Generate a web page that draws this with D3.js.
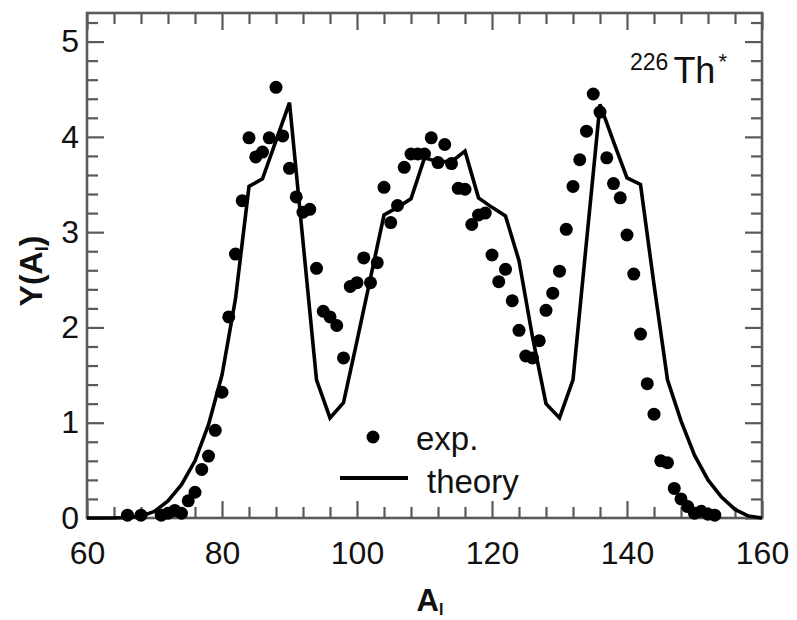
<!DOCTYPE html>
<html><head><meta charset="utf-8">
<script src="https://cdn.jsdelivr.net/npm/d3@7/dist/d3.min.js"></script>
<style>
body{margin:0;background:#fff}
svg{display:block}
text{font-family:"Liberation Sans",Arial,Helvetica,sans-serif;fill:#111}
</style>
</head><body>
<svg id="chart" width="797" height="620"></svg>
<script>
// experimental yields
const expA = [66,68,71,72,73,74,75,76,77,78,79,80,81,82,83,84,85,86,87,88,89,90,91,92,93,94,95,96,97,98,
  99,100,101,102,103,104,105,106,107,108,109,110,111,112,113,114,115,116,117,118,119,120,121,122,123,124,125,126,127,128,
  129,130,131,132,133,134,135,136,137,138,139,140,141,142,143,144,145,146,147,148,149,150,151,152,153];
const expY = [0.03,0.03,0.03,0.05,0.08,0.05,0.18,0.27,0.51,0.65,0.92,1.32,2.11,2.77,3.33,3.99,3.79,3.84,3.99,4.52,4.01,3.67,3.37,3.21,3.24,2.62,2.17,2.11,2.02,1.68,
  2.43,2.47,2.73,2.47,2.68,3.47,3.10,3.28,3.68,3.82,3.82,3.82,3.99,3.73,3.92,3.72,3.46,3.45,3.08,3.18,3.20,2.76,2.48,2.61,2.28,1.97,1.70,1.68,1.86,2.18,
  2.36,2.59,3.03,3.48,3.76,4.06,4.45,4.26,3.78,3.51,3.36,2.97,2.56,1.93,1.41,1.09,0.60,0.58,0.31,0.20,0.12,0.05,0.07,0.04,0.03];
// theory curve
const theoryA = [60,62,64,66,68,70,72,74,76,78,80,82,84,86,88,90,92,94,96,98,100,102,104,106,108,110,
  112,114,116,118,120,122,124,126,128,130,132,134,136,138,140,142,144,146,148,150,152,154,156,158,160];
const theoryY = [0,0,0,0.005,0.02,0.07,0.18,0.35,0.6,0.98,1.5,2.3,3.48,3.56,3.96,4.36,2.9,1.45,1.05,1.21,1.86,2.52,3.18,3.26,3.35,3.78,
  3.74,3.74,3.85,3.36,3.26,3.17,2.7,1.9,1.2,1.05,1.45,2.9,4.34,3.95,3.57,3.5,2.45,1.45,1.02,0.66,0.4,0.22,0.09,0.02,0];
const xTickLabels = [60,80,100,120,140,160];
const yTickLabels = [0,1,2,3,4,5];
const legendLabels = ["exp.","theory"];

const svg = d3.select("#chart");
const L=87, R=762, T=13, B=518;
const x = d3.scaleLinear().domain([60,160]).range([L,R]);
const y = d3.scaleLinear().domain([0,5.3]).range([B,T]);
const axisCol = "#5a5a5a";

const xMinor = d3.range(60,161,4).filter(v=>!xTickLabels.includes(v));
const yMinor = d3.range(0,5.3,0.2).map(v=>+v.toFixed(1)).filter(v=>!yTickLabels.includes(v));

function styleAxis(g){
  g.select(".domain").remove();
  g.selectAll(".tick line").attr("stroke",axisCol).attr("stroke-width",2.2);
  g.selectAll("text").attr("font-size",32).attr("fill","#111");
}
// bottom
svg.append("g").attr("transform",`translate(0,${B})`)
  .call(d3.axisBottom(x).tickValues(xTickLabels).tickSize(-17).tickPadding(23).tickFormat(d3.format("d"))).call(styleAxis);
svg.append("g").attr("transform",`translate(0,${B})`)
  .call(d3.axisBottom(x).tickValues(xMinor).tickSize(-11).tickFormat("")).call(styleAxis);
// top
svg.append("g").attr("transform",`translate(0,${T})`)
  .call(d3.axisTop(x).tickValues(xTickLabels).tickSize(-17).tickFormat("")).call(styleAxis);
svg.append("g").attr("transform",`translate(0,${T})`)
  .call(d3.axisTop(x).tickValues(xMinor).tickSize(-11).tickFormat("")).call(styleAxis);
// left
svg.append("g").attr("transform",`translate(${L},0)`)
  .call(d3.axisLeft(y).tickValues(yTickLabels).tickSize(-17).tickPadding(8).tickFormat(d3.format("d"))).call(styleAxis);
svg.append("g").attr("transform",`translate(${L},0)`)
  .call(d3.axisLeft(y).tickValues(yMinor).tickSize(-11).tickFormat("")).call(styleAxis);
// right
svg.append("g").attr("transform",`translate(${R},0)`)
  .call(d3.axisRight(y).tickValues(yTickLabels).tickSize(-17).tickFormat("")).call(styleAxis);
svg.append("g").attr("transform",`translate(${R},0)`)
  .call(d3.axisRight(y).tickValues(yMinor).tickSize(-11).tickFormat("")).call(styleAxis);

// frame
svg.append("rect").attr("x",L).attr("y",T).attr("width",R-L).attr("height",B-T)
  .attr("fill","none").attr("stroke",axisCol).attr("stroke-width",2.6);

// theory line
const line = d3.line().x((d,i)=>x(theoryA[i])).y(d=>y(d));
svg.append("path").datum(theoryY).attr("d",line)
  .attr("fill","none").attr("stroke","#000").attr("stroke-width",3.6).attr("stroke-linejoin","miter");

// exp points
svg.append("g").selectAll("circle").data(expY).join("circle")
  .attr("cx",(d,i)=>x(expA[i])).attr("cy",d=>y(d)).attr("r",6.5).attr("fill","#000");

// legend
svg.append("circle").attr("cx",373).attr("cy",437).attr("r",6.5).attr("fill","#000");
svg.append("text").attr("x",416).attr("y",450).attr("font-size",33).text(legendLabels[0]);
svg.append("line").attr("x1",340).attr("x2",408).attr("y1",478).attr("y2",478).attr("stroke","#000").attr("stroke-width",4);
svg.append("text").attr("x",427).attr("y",493).attr("font-size",33).text(legendLabels[1]);

// annotation
const ann = svg.append("text").attr("x",630).attr("y",83);
ann.append("tspan").attr("font-size",23).attr("dy",-13).text("226");
ann.append("tspan").attr("font-size",36).attr("dy",13).attr("dx",5).text("Th");
ann.append("tspan").attr("font-size",22).attr("dy",-14).attr("dx",3).text("*");

// axis titles
const xt = svg.append("text").attr("x",430).attr("y",611).attr("text-anchor","middle").attr("font-weight","bold").attr("font-size",31);
xt.append("tspan").text("A");
xt.append("tspan").attr("font-size",16).attr("dy",4).text("I");

const yt = svg.append("text").attr("transform","translate(42,271) rotate(-90)").attr("text-anchor","middle").attr("font-weight","bold").attr("font-size",32);
yt.append("tspan").text("Y(A");
yt.append("tspan").attr("font-size",18).attr("dy",6).text("I");
yt.append("tspan").attr("dy",-6).text(")");
</script>
</body></html>
